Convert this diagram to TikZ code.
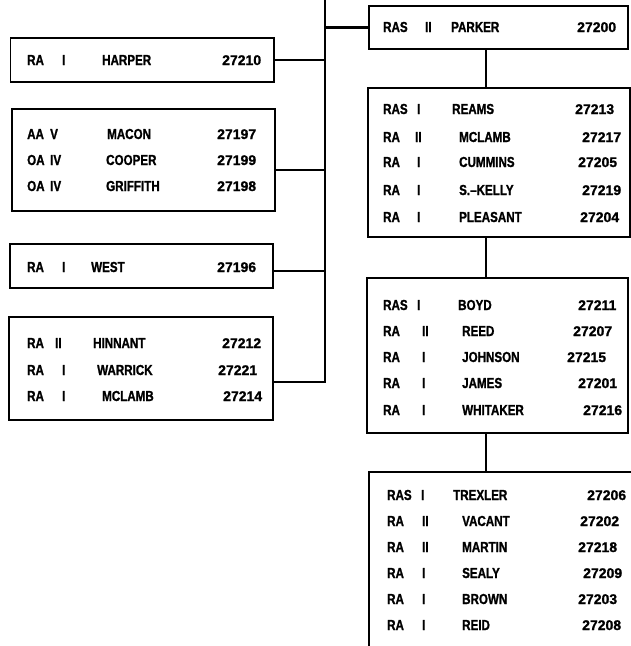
\documentclass[tikz,border=0pt]{standalone}
\usepackage{fontspec}
\newfontfamily\letfont{Liberation Sans}[UprightFont={* Bold},FakeStretch=0.8,FakeBold=1.2]
\newfontfamily\numfont{Liberation Sans}[UprightFont={* Bold},FakeBold=1.2]
\newcounter{rowno}
\newcommand{\rowentry}[9]{%
  \stepcounter{rowno}%
  \edef\rn{r\the\value{rowno}}%
  \node[lbl] (\rn-a) at (#2,#1+5) {#3};
  \node[lbl] (\rn-b) at (#4,#1+5) {#5};
  \node[lbl] (\rn-c) at (#6,#1+5) {#7};
  \node[lbl,font=\numfont\fontsize{14}{16}\selectfont] (\rn-d) at (#8,#1+5) {#9};
}
\begin{document}
\begin{tikzpicture}[x=1pt,y=-1pt,
  box/.style={draw=black,line width=1.6pt,rectangle,inner sep=0pt,fill=none},
  conn/.style={draw=black,line width=2.6pt},
  lbl/.style={anchor=base west,inner sep=0pt,text=black,font=\letfont\fontsize{14.5}{16}\selectfont}]
\clip (0,0) rectangle (631,646);
\fill[white] (0,0) rectangle (631,646);
% boxes
\node[box,minimum width=263.5pt,minimum height=44pt] (harper) at (142.25,60) {};
\node[box,minimum width=263pt,minimum height=102pt] (macon) at (143.5,160) {};
\node[box,minimum width=263pt,minimum height=44pt] (west) at (141.5,266) {};
\node[box,minimum width=264pt,minimum height=103pt] (hinnant) at (141,368.5) {};
\node[box,minimum width=259pt,minimum height=43pt] (parker) at (498.5,27.5) {};
\node[box,minimum width=262pt,minimum height=149pt] (reams) at (499,162.5) {};
\node[box,minimum width=261pt,minimum height=155pt] (boyd) at (497.5,355.5) {};
\node[box,minimum width=271pt,minimum height=198pt] (trexler) at (504.5,571) {};
% connectors
\coordinate (spinetop) at (325,-5);
\coordinate (spinebot) at (325,382);
\coordinate (vline) at (486,0);
\draw[conn] (spinetop) -- (spinebot) -- ([yshift=-13.5pt]hinnant.east);
\draw[conn] (harper.east) -- (harper.east -| spinetop);
\draw[conn] ([yshift=-10pt]macon.east) -- ([yshift=-10pt]macon.east -| spinetop);
\draw[conn] ([yshift=-5pt]west.east) -- ([yshift=-5pt]west.east -| spinetop);
\draw[conn] (parker.west -| spinetop) -- (parker.west);
\draw[conn] (parker.south -| vline) -- (reams.north -| vline);
\draw[conn] (reams.south -| vline) -- (boyd.north -| vline);
\draw[conn] (boyd.south -| vline) -- (trexler.north -| vline);
% left texts
\rowentry{60}{27}{RA}{62}{I}{102}{HARPER}{222}{27210}
\rowentry{134}{27}{AA}{50}{V}{107}{MACON}{217}{27197}
\rowentry{160}{27}{OA}{50}{IV}{106}{COOPER}{217}{27199}
\rowentry{186}{27}{OA}{50}{IV}{106}{GRIFFITH}{217}{27198}
\rowentry{267}{27}{RA}{62}{I}{91}{WEST}{217}{27196}
\rowentry{343}{27}{RA}{55}{II}{93}{HINNANT}{222}{27212}
\rowentry{370}{27}{RA}{62}{I}{97}{WARRICK}{218}{27221}
\rowentry{396}{27}{RA}{62}{I}{102}{MCLAMB}{223}{27214}
% right texts
\rowentry{27}{383}{RAS}{425}{II}{451}{PARKER}{577}{27200}
\rowentry{109}{383}{RAS}{417}{I}{452}{REAMS}{575}{27213}
\rowentry{137}{383}{RA}{415}{II}{459}{MCLAMB}{582}{27217}
\rowentry{162}{383}{RA}{417}{I}{459}{CUMMINS}{578}{27205}
\rowentry{190}{383}{RA}{417}{I}{459}{S.–KELLY}{582}{27219}
\rowentry{217}{383}{RA}{417}{I}{459}{PLEASANT}{580}{27204}
\rowentry{305}{383}{RAS}{417}{I}{458}{BOYD}{578}{27211}
\rowentry{331}{383}{RA}{422}{II}{462}{REED}{573}{27207}
\rowentry{357}{383}{RA}{422}{I}{462}{JOHNSON}{567}{27215}
\rowentry{383}{383}{RA}{422}{I}{462}{JAMES}{578}{27201}
\rowentry{410}{383}{RA}{422}{I}{462}{WHITAKER}{583}{27216}
\rowentry{495}{387}{RAS}{421}{I}{453}{TREXLER}{587}{27206}
\rowentry{521}{387}{RA}{422}{II}{462}{VACANT}{580}{27202}
\rowentry{547}{387}{RA}{422}{II}{462}{MARTIN}{578}{27218}
\rowentry{573}{387}{RA}{422}{I}{462}{SEALY}{583}{27209}
\rowentry{599}{387}{RA}{422}{I}{462}{BROWN}{578}{27203}
\rowentry{625}{387}{RA}{422}{I}{462}{REID}{582}{27208}
\end{tikzpicture}
\end{document}
